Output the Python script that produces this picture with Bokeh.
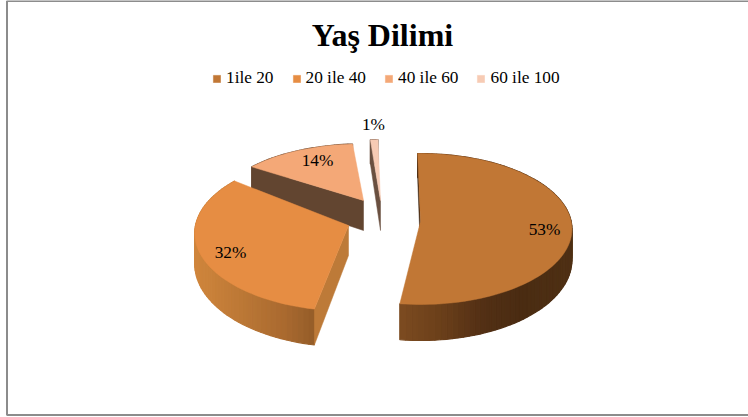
import numpy as np
from bokeh.embed import file_html
from bokeh.resources import INLINE
from bokeh.plotting import figure
from bokeh.models import Legend, LegendItem, Range1d
from bokeh.core.properties import value

# ---- data ----
title = "Yaş Dilimi"
categories = ["1ile 20", "20 ile 40", "40 ile 60", "60 ile 100"]
shares = [53, 32, 14, 1]
labels = ["53%", "32%", "14%", "1%"]

# ---- styles ----
face_colors = ["#C17735", "#E68D43", "#F4A877", "#F7CBB4"]
wall_colors = ["#3C2410", "#BD7A38", "#624530", "#6A5040"]
rim_stops = [
    [(399, "#7C4B20"), (440, "#6B3F1A"), (480, "#533015"), (520, "#4A2C12"), (575, "#4F3014")],
    [(193, "#D0863C"), (240, "#BC7836"), (285, "#A9692F"), (316, "#925C28")],
    [(250, "#624530"), (370, "#624530")],
    [(360, "#6A5040"), (390, "#6A5040")],
]
FONT = "Liberation Serif"

# ---- layout of the exploded 3D pie, in page pixels ----
apex_x = [420, 348, 363, 380]
apex_y = [221, 225, 200, 200]
scale_x = [0.985, 1.0, 0.94, 0.87]
scale_y = [0.97, 1.0, 0.81, 0.87]
trim_start = [0, 2, 0, 0]   # perspective correction of the cut edges, degrees
trim_end = [-2.5, 3, 0, 0]
RX, RY, PERSP = 153, 77, 0.1
ROT = -1.2
label_x = [544, 230, 317, 373]
label_y = [229, 252, 160, 124]

W, H = 748, 417


def project(i, deg):
    t = np.radians(np.asarray(deg, dtype=float))
    s, c = np.sin(t), np.cos(t)
    d = 1 + PERSP * c
    return apex_x[i] + scale_x[i] * RX * s / d, apex_y[i] - scale_y[i] * RY * c / d, c


def depth(c):
    return 30 * (1 - 0.2 * c)


def blend(stops, x):
    xs = [a for a, _ in stops]
    rgb = np.array([[int(h[k:k + 2], 16) for k in (1, 3, 5)] for _, h in stops], dtype=float)
    v = [np.interp(x, xs, rgb[:, j]) for j in range(3)]
    return "#%02x%02x%02x" % tuple(int(round(a)) for a in v)


p = figure(width=W, height=H, x_range=Range1d(0, W), y_range=Range1d(H, 0),
           output_backend="svg", toolbar_location=None, min_border=0,
           outline_line_color=None, background_fill_color="white")
p.xaxis.visible = False
p.yaxis.visible = False
p.grid.visible = False

p.line([W + 20, 6.5, 6.5, W + 20], [0.5, 0.5, 414.5, 414.5], line_color="#8C8C8C", line_width=2)

total = sum(shares)
edges = np.cumsum([0] + shares) / total * 360 + ROT
faces = {}
for i in [2, 3, 1, 0]:
    a0, a1 = edges[i] + trim_start[i], edges[i + 1] + trim_end[i]
    n = max(3, int((a1 - a0) / 2))
    ang = np.linspace(a0, a1, n + 1)
    x, y, c = project(i, ang)

    xs, ys, cols = [], [], []
    for k in range(n):
        xs.append([x[k], x[k + 1], x[k + 1], x[k]])
        ys.append([y[k], y[k + 1], y[k + 1] + depth(c[k + 1]), y[k] + depth(c[k])])
        cols.append(blend(rim_stops[i], (x[k] + x[k + 1]) / 2))
    p.patches(xs, ys, fill_color=cols, line_color=cols, line_width=1.2)

    ax, ay = apex_x[i], apex_y[i]
    wx, wy = [x[0], ax, ax, x[0]], [y[0], ay, ay + depth(0), y[0] + depth(c[0])]
    p.patch(wx, wy, fill_color=wall_colors[i], line_color=wall_colors[i], line_width=0.5)

    faces[i] = p.patch([ax] + list(x), [ay] + list(y), fill_color=face_colors[i],
                       line_color=face_colors[i], line_width=0.5)

p.text(label_x, label_y, text=labels, text_font=value(FONT), text_font_size="17.3px",
       text_align="center", text_baseline="middle", text_color="#000000")
p.text([382], [34.5], text=[title], text_font=value(FONT), text_font_size="32px",
       text_font_style="bold", text_align="center", text_baseline="middle", text_color="#000000")

legend = Legend(items=[LegendItem(label=c, renderers=[faces[i]]) for i, c in enumerate(categories)],
                orientation="horizontal", location=(212, H - 88), padding=0, margin=0, spacing=18,
                glyph_width=9, glyph_height=9, label_standoff=5, border_line_color=None,
                background_fill_alpha=0, label_text_font=FONT, label_text_font_size="17.3px",
                label_text_color="#000000", label_height=18)
p.add_layout(legend)

open("out.html", "w").write(file_html(p, INLINE))
